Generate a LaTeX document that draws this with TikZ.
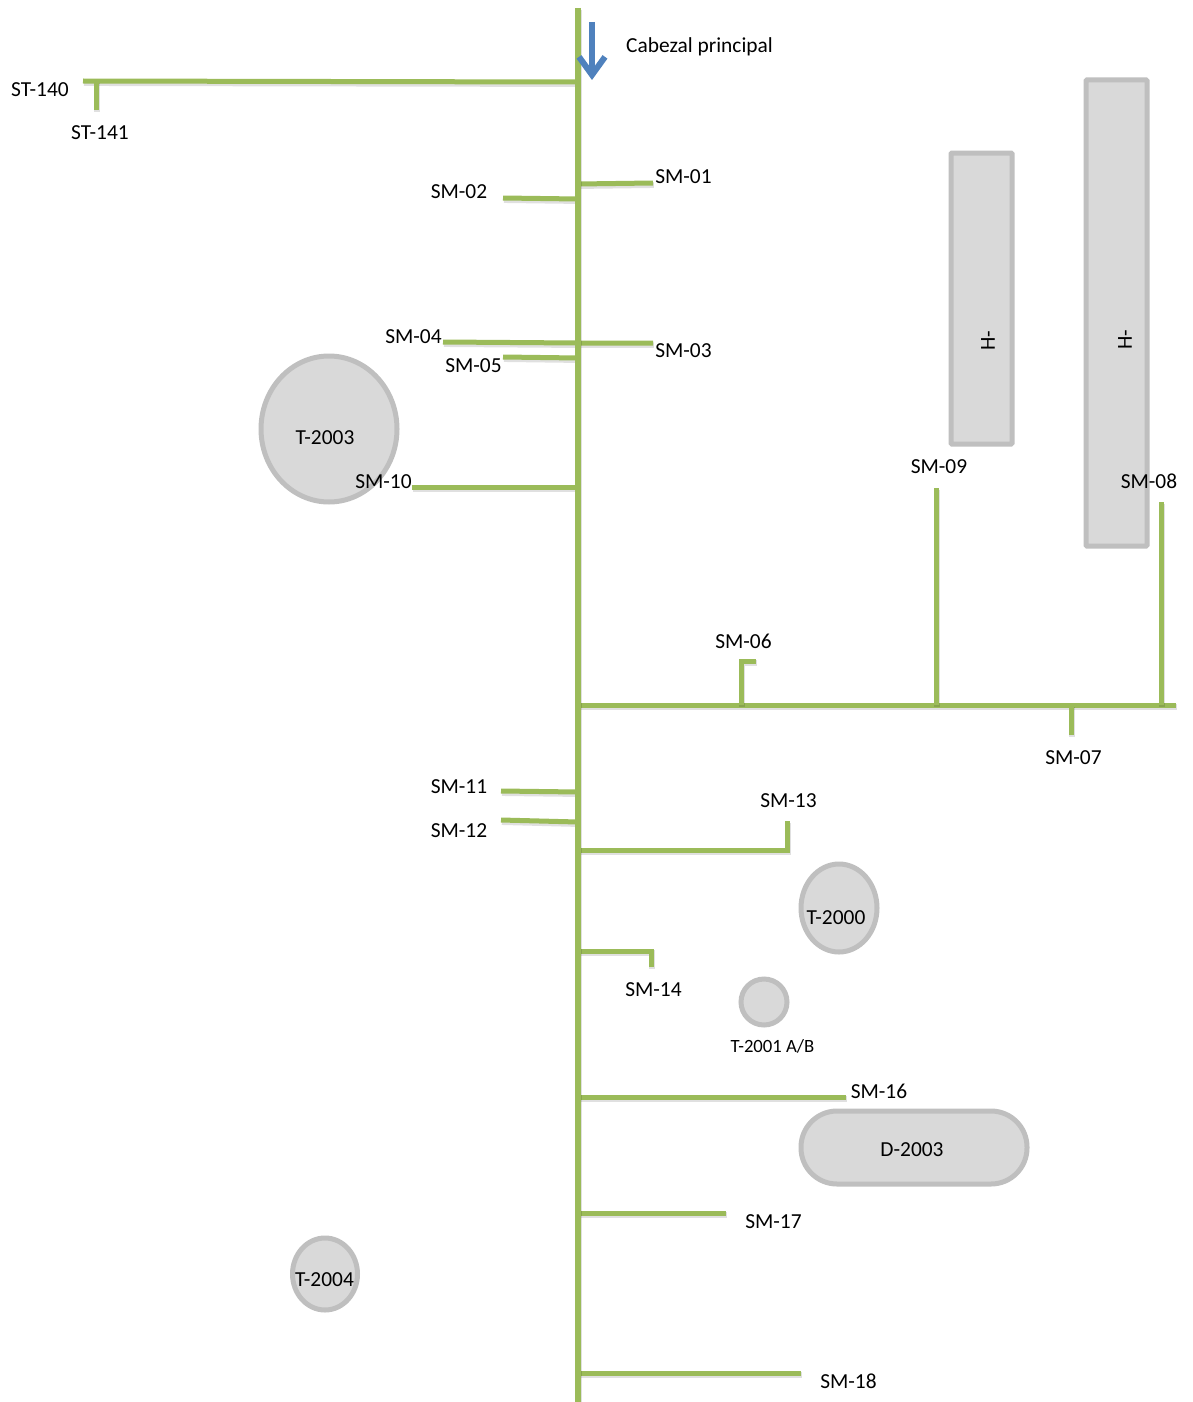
\documentclass[tikz,border=0pt]{standalone}
\usepackage{fontspec}
\setmainfont{Carlito}
\usetikzlibrary{arrows.meta,shapes.geometric}
\definecolor{pipe}{HTML}{9BBB59}
\definecolor{flow}{HTML}{4F81BD}
\definecolor{eqfill}{HTML}{D9D9D9}
\definecolor{eqline}{HTML}{BFBFBF}
\tikzset{
  x=1pt,y=-1pt,
  pipeline/.style={draw=pipe,line width=5pt,line join=miter,
    preaction={draw=black,draw opacity=.12,line width=5.5pt,transform canvas={xshift=.8pt,yshift=-2.2pt}}},
  mainpipe/.style={pipeline,line width=5.5pt},
  flowarrow/.style={draw=flow,line width=6pt,-{Straight Barb[length=18pt,width=26pt,line width=6pt]},
    preaction={draw=black,draw opacity=.12,transform canvas={xshift=.8pt,yshift=-2.2pt}}},
  vessel/.style={draw=eqline,fill=eqfill,line width=5pt,inner sep=0pt,outer sep=0pt},
  round vessel/.style={vessel,ellipse},
  tag/.style={font=\fontsize{21.4}{23}\selectfont,text=black,inner sep=0pt},
  small tag/.style={font=\fontsize{18.7}{20}\selectfont,text=black,inner sep=0pt},
}
\begin{document}
\begin{tikzpicture}
\useasboundingbox (0,0) rectangle (1192,1402);
% equipment
\node[vessel,rounded corners=1pt,minimum width=61pt,minimum height=291pt] (h1) at (981.5,298.5) {};
\node[vessel,rounded corners=1pt,minimum width=61pt,minimum height=466pt] (h2) at (1116.5,313) {};
\node[round vessel,minimum width=136pt,minimum height=146pt] (t2003) at (329,429) {};
\node[round vessel,minimum width=76pt,minimum height=88pt] (t2000) at (839,908) {};
\node[round vessel,minimum width=46pt,minimum height=46pt] (t2001) at (764,1002) {};
\node[round vessel,minimum width=65pt,minimum height=72pt] (t2004) at (325,1274) {};
\node[vessel,rounded corners=36pt,minimum width=226pt,minimum height=73pt] (d2003) at (914,1147.5) {};
% main header and tap points
\coordinate (top) at (578,8);
\coordinate (bottom) at (578,1402);
\coordinate (m140) at (578,82);
\coordinate (m01) at (578,184);
\coordinate (m02) at (578,199);
\coordinate (m03) at (578,343);
\coordinate (m05) at (578,358);
\coordinate (m10) at (578,487);
\coordinate (mh) at (578,705);
\coordinate (m11) at (578,792);
\coordinate (m12) at (578,822);
\coordinate (m13) at (578,850);
\coordinate (m14) at (578,951);
\coordinate (m16) at (578,1097);
\coordinate (m17) at (578,1213);
\coordinate (m18) at (578,1373);
% free ends
\coordinate (e140) at (83,81);
\coordinate (b141) at (96,81);
\coordinate (e141) at (96,110);
\coordinate (e01) at (653,183);
\coordinate (e02) at (503,198);
\coordinate (e03) at (653,343);
\coordinate (e04) at (443,342);
\coordinate (e05) at (503,357);
\coordinate (e10) at (412,487);
\coordinate (eh) at (1176,705);
\coordinate (b06) at (741,705);
\coordinate (c06) at (741,661);
\coordinate (e06) at (756,661);
\coordinate (b09) at (936,705);
\coordinate (e09) at (936,488);
\coordinate (b08) at (1161,705);
\coordinate (e08) at (1161,502);
\coordinate (b07) at (1071,705);
\coordinate (e07) at (1071,735);
\coordinate (e11) at (501,791);
\coordinate (e12) at (501,820);
\coordinate (c13) at (787,850);
\coordinate (e13) at (787,821);
\coordinate (c14) at (651,951);
\coordinate (e14) at (651,967);
\coordinate (e16) at (846,1097);
\coordinate (e17) at (726,1213);
\coordinate (e18) at (801,1373);
% branches
\draw[pipeline] (e140) -- (m140);
\draw[pipeline] (b141) -- (e141);
\draw[pipeline] (m01) -- (e01);
\draw[pipeline] (e02) -- (m02);
\draw[pipeline] (e04) -- (m03) -- (e03);
\draw[pipeline] (e05) -- (m05);
\draw[pipeline] (e10) -- (m10);
\draw[pipeline] (mh) -- (eh);
\draw[pipeline] (b06) -- (c06) -- (e06);
\draw[pipeline] (b09) -- (e09);
\draw[pipeline] (b08) -- (e08);
\draw[pipeline] (b07) -- (e07);
\draw[pipeline] (e11) -- (m11);
\draw[pipeline] (e12) -- (m12);
\draw[pipeline] (m13) -- (c13) -- (e13);
\draw[pipeline] (m14) -- (c14) -- (e14);
\draw[pipeline] (m16) -- (e16);
\draw[pipeline] (m17) -- (e17);
\draw[pipeline] (m18) -- (e18);
\draw[mainpipe] (top) -- (bottom);
% flow arrow
\coordinate (fa) at (592,22);
\coordinate (fb) at (592,80);
\draw[flowarrow] (fa) -- (fb);
% labels
\node[tag,anchor=west] (cab) at (626,46.5) {Cabezal principal};
\node[tag] (l140) at (40,89.5) {ST-140};
\node[tag] (l141) at (100,132.5) {ST-141};
\node[tag] (l01) at (683.5,176.5) {SM-01};
\node[tag] (l02) at (459,191.5) {SM-02};
\node[tag] (l03) at (683.5,350.5) {SM-03};
\node[tag] (l04) at (413.5,336.5) {SM-04};
\node[tag] (l05) at (473.5,365.5) {SM-05};
\node[tag] (l10) at (383.5,481.5) {SM-10};
\node[tag] (l06) at (743.5,641.5) {SM-06};
\node[tag] (l07) at (1073.5,757.5) {SM-07};
\node[tag] (l08) at (1149,481.5) {SM-08};
\node[tag] (l09) at (939,466.5) {SM-09};
\node[tag] (l11) at (459,786.5) {SM-11};
\node[tag] (l12) at (459,830.5) {SM-12};
\node[tag] (l13) at (788.5,800.5) {SM-13};
\node[tag] (l14) at (653.5,989.5) {SM-14};
\node[tag] (l16) at (879,1091.5) {SM-16};
\node[tag] (l17) at (773.5,1221.5) {SM-17};
\node[tag] (l18) at (848.5,1381.5) {SM-18};
\node[tag] (lt2003) at (325,437.5) {T-2003};
\node[tag] (lt2000) at (836,917.5) {T-2000};
\node[small tag] (lt2001) at (772.5,1046.5) {T-2001 A/B};
\node[tag] (lt2004) at (324.5,1279.5) {T-2004};
\node[tag] (ld2003) at (912,1149.5) {D-2003};
\node[tag,rotate=90] (lh1) at (988,341) {H-};
\node[tag,rotate=90] (lh2) at (1125,340) {H-};
\end{tikzpicture}
\end{document}
